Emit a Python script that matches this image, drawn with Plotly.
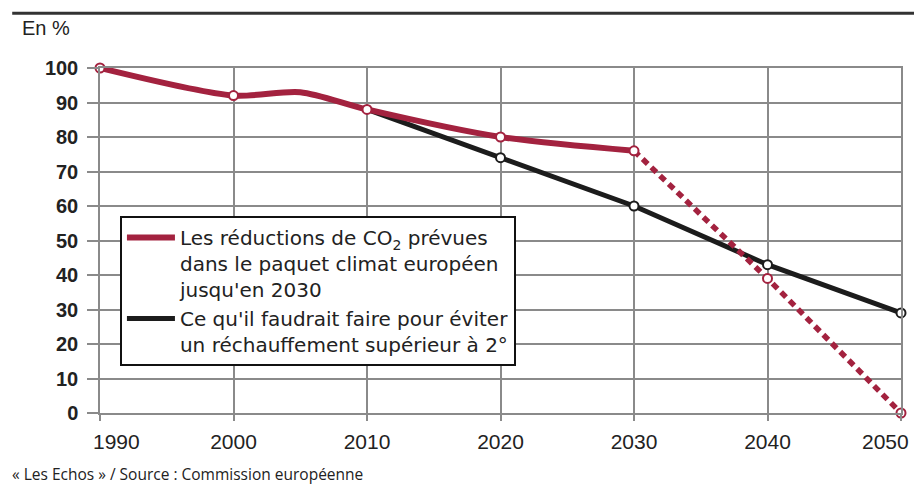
import plotly.graph_objects as go

# ---- data ----
years_ticks = [1990, 2000, 2010, 2020, 2030, 2040, 2050]
y_ticks = [0, 10, 20, 30, 40, 50, 60, 70, 80, 90, 100]

# EU package reductions (solid part, incl. the bump around 2005)
eu_years = [1990, 2000, 2005, 2010, 2020, 2030]
eu_values = [100, 92, 93, 88, 80, 76]
eu_marker_years = [1990, 2000, 2010, 2020, 2030]
eu_marker_values = [100, 92, 88, 80, 76]

# EU continuation (dashed)
eu_proj_years = [2030, 2040, 2050]
eu_proj_values = [76, 39, 0]

# needed trajectory for < 2°
need_years = [2010, 2020, 2030, 2040, 2050]
need_values = [88, 74, 60, 43, 29]
need_marker_years = [2020, 2030, 2040, 2050]
need_marker_values = [74, 60, 43, 29]

legend_eu = "Les réductions de CO<sub>2</sub> prévues<br>dans le paquet climat européen<br>jusqu'en 2030"
legend_need = "Ce qu'il faudrait faire pour éviter<br>un réchauffement supérieur à 2°"

RED = "#a3223f"
BLACK = "#1c1c1c"
GRID = "#8a8a8a"
TXT = "#222222"
FONT = "Liberation Sans, Arial, sans-serif"
LFONT = "DejaVu Sans, Liberation Sans, sans-serif"

fig = go.Figure()

fig.add_trace(go.Scatter(
    x=need_years, y=need_values, mode="lines",
    line=dict(color=BLACK, width=5),
    name=legend_need, legendrank=2, cliponaxis=False,
))
fig.add_trace(go.Scatter(
    x=need_marker_years, y=need_marker_values, mode="markers",
    marker=dict(size=9, color="white", line=dict(color=BLACK, width=2)),
    showlegend=False, cliponaxis=False,
))
fig.add_trace(go.Scatter(
    x=eu_proj_years, y=eu_proj_values, mode="lines",
    line=dict(color=RED, width=5.5, dash="7px,5px"),
    showlegend=False, cliponaxis=False,
))
fig.add_trace(go.Scatter(
    x=eu_years, y=eu_values, mode="lines",
    line=dict(color=RED, width=6, shape="spline", smoothing=0.8),
    name=legend_eu, legendrank=1, cliponaxis=False,
))
fig.add_trace(go.Scatter(
    x=eu_marker_years + eu_proj_years[1:], y=eu_marker_values + eu_proj_values[1:],
    mode="markers",
    marker=dict(size=9, color="white", line=dict(color=RED, width=2)),
    showlegend=False, cliponaxis=False,
))

# end labels of the x axis are nudged inward (as in the original)
x_label_y = -0.084
annotations = [
    dict(text=str(years_ticks[0]), xref="x", yref="paper", x=years_ticks[0], y=x_label_y,
         xanchor="left", yanchor="middle", xshift=-9, showarrow=False,
         font=dict(family=FONT, size=21, color=TXT)),
    dict(text=str(years_ticks[-1]), xref="x", yref="paper", x=years_ticks[-1], y=x_label_y,
         xanchor="right", yanchor="middle", xshift=10, showarrow=False,
         font=dict(family=FONT, size=21, color=TXT)),
    dict(text="En %", xref="paper", yref="paper", x=-0.0996, y=1.116,
         xanchor="left", yanchor="middle", showarrow=False,
         font=dict(family=FONT, size=20, color=TXT)),
    dict(text="« Les Echos » / Source : Commission européenne",
         xref="paper", yref="paper", x=-0.112, y=-0.178,
         xanchor="left", yanchor="middle", showarrow=False,
         font=dict(family="Open Sans, sans-serif", size=15.5, color=TXT)),
]

fig.update_layout(
    width=914, height=487,
    margin=dict(l=100, r=11, t=68, b=74),
    paper_bgcolor="white", plot_bgcolor="white",
    font=dict(family=FONT, color=TXT, size=18),
    showlegend=True,
    legend=dict(
        x=0.0249, y=0.571, xanchor="left", yanchor="top",
        bgcolor="white", bordercolor="#111111", borderwidth=2,
        font=dict(family=LFONT, size=20, color=TXT),
        valign="top", tracegroupgap=4, itemwidth=48,
        traceorder="normal",
    ),
    xaxis=dict(
        range=[1990, 2050], tickvals=years_ticks[1:-1],
        ticktext=[str(y) for y in years_ticks[1:-1]],
        showgrid=True, gridcolor=GRID, gridwidth=1.5,
        showline=True, linecolor=GRID, linewidth=1.5, mirror=True,
        ticks="outside", ticklen=6, tickcolor=GRID, tickwidth=1.5,
        minor=dict(tickvals=years_ticks, ticks="outside", ticklen=6,
                   tickcolor=GRID, tickwidth=1.5, showgrid=False),
        tickfont=dict(family=FONT, size=21, color=TXT),
        ticklabelstandoff=3, zeroline=False, fixedrange=True,
    ),
    yaxis=dict(
        range=[0, 100], tickvals=y_ticks, ticktext=[str(v) for v in y_ticks],
        showgrid=True, gridcolor=GRID, gridwidth=1.5,
        showline=True, linecolor=GRID, linewidth=1.5, mirror=True,
        ticks="outside", ticklen=11, tickcolor=GRID, tickwidth=1.5,
        tickfont=dict(family=FONT, size=20, color=TXT, weight="bold"),
        ticklabelstandoff=5, zeroline=False, fixedrange=True,
    ),
    shapes=[dict(
        type="line", xref="paper", yref="paper",
        x0=-0.1096, x1=1.02, y0=1.159, y1=1.159,
        line=dict(color="#333333", width=3),
    )],
    annotations=annotations,
)

fig.write_html("out.html", post_script="document.body.style.margin='0px';",
               config={"displayModeBar": False})
